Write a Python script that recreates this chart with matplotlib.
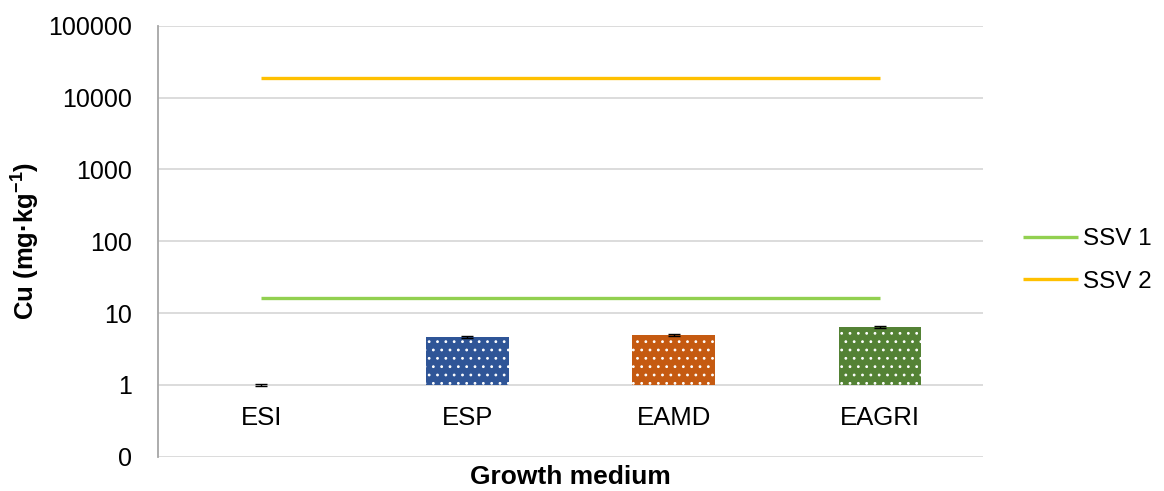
import matplotlib
matplotlib.use("Agg")
import matplotlib.pyplot as plt
import numpy as np

# Cu content per growth medium (mg/kg) with standard deviations
categories = ["ESI", "ESP", "EAMD", "EAGRI"]
cu_values = [1.0, 4.66, 4.97, 6.45]
cu_errors = [0.03, 0.2, 0.2, 0.25]
bar_colors = ["#2F5597", "#2F5597", "#C55A11", "#548235"]

# Soil screening values drawn as reference lines
ssv_labels = ["SSV 1", "SSV 2"]
ssv_values = [16.0, 19000.0]
ssv_colors = ["#92D050", "#FFC000"]

y_ticks = [0.1, 1, 10, 100, 1000, 10000, 100000]
y_tick_labels = ["0", "1", "10", "100", "1000", "10000", "100000"]

plt.rcParams["font.family"] = ["Liberation Sans", "DejaVu Sans"]
plt.rcParams["mathtext.fontset"] = "custom"
plt.rcParams["mathtext.rm"] = "Liberation Sans:bold"
plt.rcParams["mathtext.bf"] = "Liberation Sans:bold"
plt.rcParams["hatch.linewidth"] = 0.8

W, H = 1164, 491
fig = plt.figure(figsize=(W / 100, H / 100), dpi=100)
ax = fig.add_axes([158 / W, 1 - 456.7 / H, (983 - 158) / W, (456.7 - 25.7) / H])

x = np.arange(len(categories))
base = 1.0
heights = [v - base for v in cu_values]
bars = ax.bar(x, heights, bottom=base, width=0.4, color=bar_colors,
              edgecolor="white", linewidth=0, hatch="..", zorder=3)
ax.errorbar(x, cu_values, yerr=cu_errors, fmt="none", ecolor="black",
            elinewidth=1.0, capsize=4.3, capthick=1.0, zorder=4)

for val, col, lab in zip(ssv_values, ssv_colors, ssv_labels):
    ax.plot([x[0], x[-1]], [val, val], color=col, lw=2.4, label=lab,
            zorder=3, solid_capstyle="butt")

ax.set_yscale("log")
ax.set_ylim(y_ticks[0], y_ticks[-1])
ax.set_xlim(-0.5, len(categories) - 0.5)
ax.set_yticks(y_ticks)
ax.set_yticklabels(y_tick_labels)
ax.yaxis.set_minor_locator(matplotlib.ticker.NullLocator())
ax.tick_params(axis="y", length=0, pad=18.5, labelsize=18)
ax.set_xticks([])

ax.grid(axis="y", color="#D9D9D9", lw=1.3, zorder=0)
ax.set_axisbelow(True)
for s in ["top", "right", "bottom"]:
    ax.spines[s].set_visible(False)
ax.spines["left"].set_color("#A6A6A6")
ax.spines["left"].set_linewidth(1.3)

# Category labels sit below the crossing line at 1
for xi, lab in zip(x, categories):
    ax.annotate(lab, (xi, base), xytext=(0, -23.5), textcoords="offset points",
                ha="center", va="center", fontsize=18.5)

ax.set_xlabel("Growth medium", fontsize=19, fontweight="bold", labelpad=6)
ax.set_ylabel(r"Cu (mg·kg$^{\mathbf{-1}}$)", fontsize=18.5, fontweight="bold")
ax.yaxis.set_label_coords(-0.142, 0.5)

fig.legend(loc="center left", bbox_to_anchor=(1023 / W, 1 - 260.5 / H),
           frameon=False, fontsize=17.5, handlelength=2.25, handletextpad=0.2,
           labelspacing=0.85, borderpad=0, borderaxespad=0)

fig.savefig("out.png", dpi=100)
